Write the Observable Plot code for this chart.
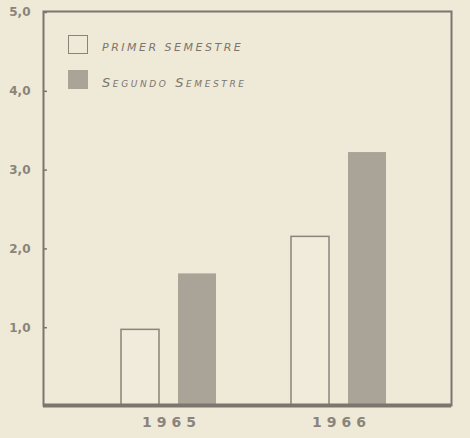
<!DOCTYPE html>
<html><head><meta charset="utf-8">
<script src="https://cdn.jsdelivr.net/npm/d3@7"></script>
<script src="https://cdn.jsdelivr.net/npm/@observablehq/plot@0.6"></script>
<style>
html,body{margin:0;padding:0;background:#efe9d8;}
#wrap{position:relative;width:470px;height:438px;overflow:hidden;}
#wrap svg{display:block;}
.lg{position:absolute;left:102px;font-family:"DejaVu Sans",sans-serif;font-style:italic;color:#7b766d;font-size:11px;letter-spacing:2.5px;line-height:13px;white-space:nowrap;}
.sw{position:absolute;left:68px;width:18px;height:17px;border:1.5px solid #8a847a;}
svg [aria-label="x-axis tick label"] text{letter-spacing:5px;}
</style></head><body><div id="wrap"></div>
<script>
const years = ["1965", "1966"];
const primerSemestre = [0.96, 2.14];
const segundoSemestre = [1.67, 3.21];
const yTicks = [1, 2, 3, 4, 5];
const seriesNames = ["PRIMER SEMESTRE", "Segundo Semestre"];

const rows = years.map((y, i) => ({year: y, primer: primerSemestre[i], segundo: segundoSemestre[i]}));
const ink = "#7b766d";

const chart = Plot.plot({
  width: 470,
  height: 438,
  marginLeft: 43,
  marginRight: 19,
  marginTop: 11,
  marginBottom: 33,
  style: {background: "#efe9d8", color: ink, fontFamily: "DejaVu Sans, sans-serif"},
  x: {domain: years, paddingInner: 0.439, paddingOuter: 0.4125, align: 0.546},
  y: {domain: [0, 5]},
  marks: [
    Plot.barY(rows, {x: "year", y: "primer", insetRight: 57, fill: "#f1ebdc", stroke: "#8a847a", strokeWidth: 1.5}),
    Plot.barY(rows, {x: "year", y: "segundo", insetLeft: 57, fill: "#aaa397"}),
    Plot.frame({stroke: ink, strokeWidth: 2}),
    Plot.ruleY([0], {stroke: ink, strokeWidth: 4}),
    Plot.axisY(yTicks, {tickSize: -4, tickPadding: 17, stroke: ink, strokeWidth: 1.5, dy: 1,
      tickFormat: d => d.toFixed(1).replace(".", ","), fontSize: 12, fontWeight: "bold", fill: "#8a847a", label: null}),
    Plot.axisX({tickSize: 0, tickPadding: 12, fontSize: 14, fontWeight: "bold", fill: "#8a847a", dx: 2.5, label: null})
  ]
});
const wrap = document.getElementById("wrap");
wrap.appendChild(chart);

const legendItems = [
  {name: seriesNames[0], top: 35, fill: "transparent", textTop: 41, caps: false},
  {name: seriesNames[1], top: 70, fill: "#aaa397", textTop: 76, caps: true}
];
for (const it of legendItems) {
  const sw = document.createElement("div");
  sw.className = "sw";
  sw.style.top = it.top + "px";
  sw.style.background = it.fill;
  if (it.fill !== "transparent") sw.style.borderColor = it.fill;
  wrap.appendChild(sw);
  const t = document.createElement("div");
  t.className = "lg";
  t.style.top = it.textTop + "px";
  if (it.caps) { t.style.fontVariant = "small-caps"; t.style.fontSize = "13px"; t.style.letterSpacing = "2.6px"; }
  t.textContent = it.name;
  wrap.appendChild(t);
}
</script></body></html>
